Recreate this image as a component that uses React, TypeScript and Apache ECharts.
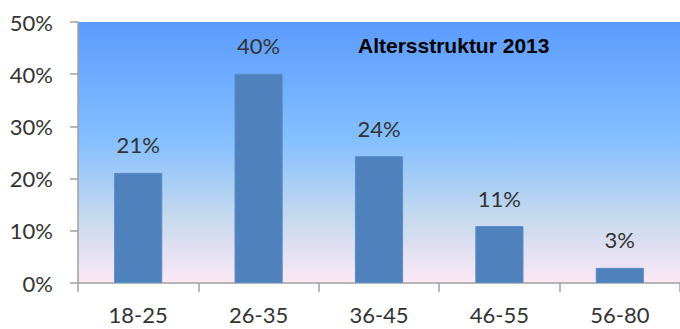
import React, { useEffect, useRef } from "react";
import * as echarts from "echarts";

const categories = ["18-25", "26-35", "36-45", "46-55", "56-80"];
const shares = [0.211, 0.401, 0.243, 0.109, 0.029];
const yTicks = { min: 0, max: 0.5, interval: 0.1 };
const chartTitle = "Altersstruktur 2013";

const pct = (v: number) => Math.round(v * 100) + "%";

export default function App() {
  const ref = useRef<HTMLDivElement>(null);
  useEffect(() => {
    if (!ref.current) return;
    const chart = echarts.init(ref.current, null, { renderer: "svg" });
    const labelFont = { fontFamily: "Lato", fontSize: 22, color: "#333333" };
    chart.setOption({
      animation: false,
      title: {
        text: chartTitle,
        left: 358,
        top: 35,
        padding: 0,
        textStyle: { fontFamily: "Liberation Sans", fontWeight: "bold", fontSize: 21, color: "#000000" },
      },
      grid: {
        left: 78,
        top: 22,
        width: 606,
        height: 261,
        show: true,
        borderWidth: 0,
        backgroundColor: {
          type: "linear",
          x: 0,
          y: 0,
          x2: 0,
          y2: 1,
          colorStops: [
            { offset: 0, color: "#5b9bfd" },
            { offset: 0.45, color: "#84bfff" },
            { offset: 0.75, color: "#c6d9ee" },
            { offset: 1, color: "#fce8f5" },
          ],
        },
      },
      xAxis: {
        type: "category",
        data: categories,
        axisLine: { lineStyle: { color: "#a0a0a0", width: 1.5 } },
        axisTick: { show: true, length: 9, lineStyle: { color: "#a0a0a0", width: 1.5 } },
        axisLabel: { ...labelFont, margin: 20 },
      },
      yAxis: {
        type: "value",
        min: yTicks.min,
        max: yTicks.max,
        interval: yTicks.interval,
        splitLine: { show: false },
        axisLine: { show: true, lineStyle: { color: "#a0a0a0", width: 1.5 } },
        axisTick: { show: true, length: 8, lineStyle: { color: "#a0a0a0", width: 1.5 } },
        axisLabel: { ...labelFont, margin: 25, formatter: (v: number) => pct(v) },
      },
      series: [
        {
          type: "bar",
          data: shares,
          barWidth: "40%",
          itemStyle: { color: "#4f81bd", borderColor: "#5a8cc6", borderWidth: 1 },
          label: {
            show: true,
            position: "top",
            distance: 17,
            ...labelFont,
            formatter: (p: any) => pct(p.value),
          },
        },
      ],
    });
    return () => chart.dispose();
  }, []);
  return <div ref={ref} style={{ position: "absolute", left: 0, top: 0, width: 680, height: 329 }} />;
}
